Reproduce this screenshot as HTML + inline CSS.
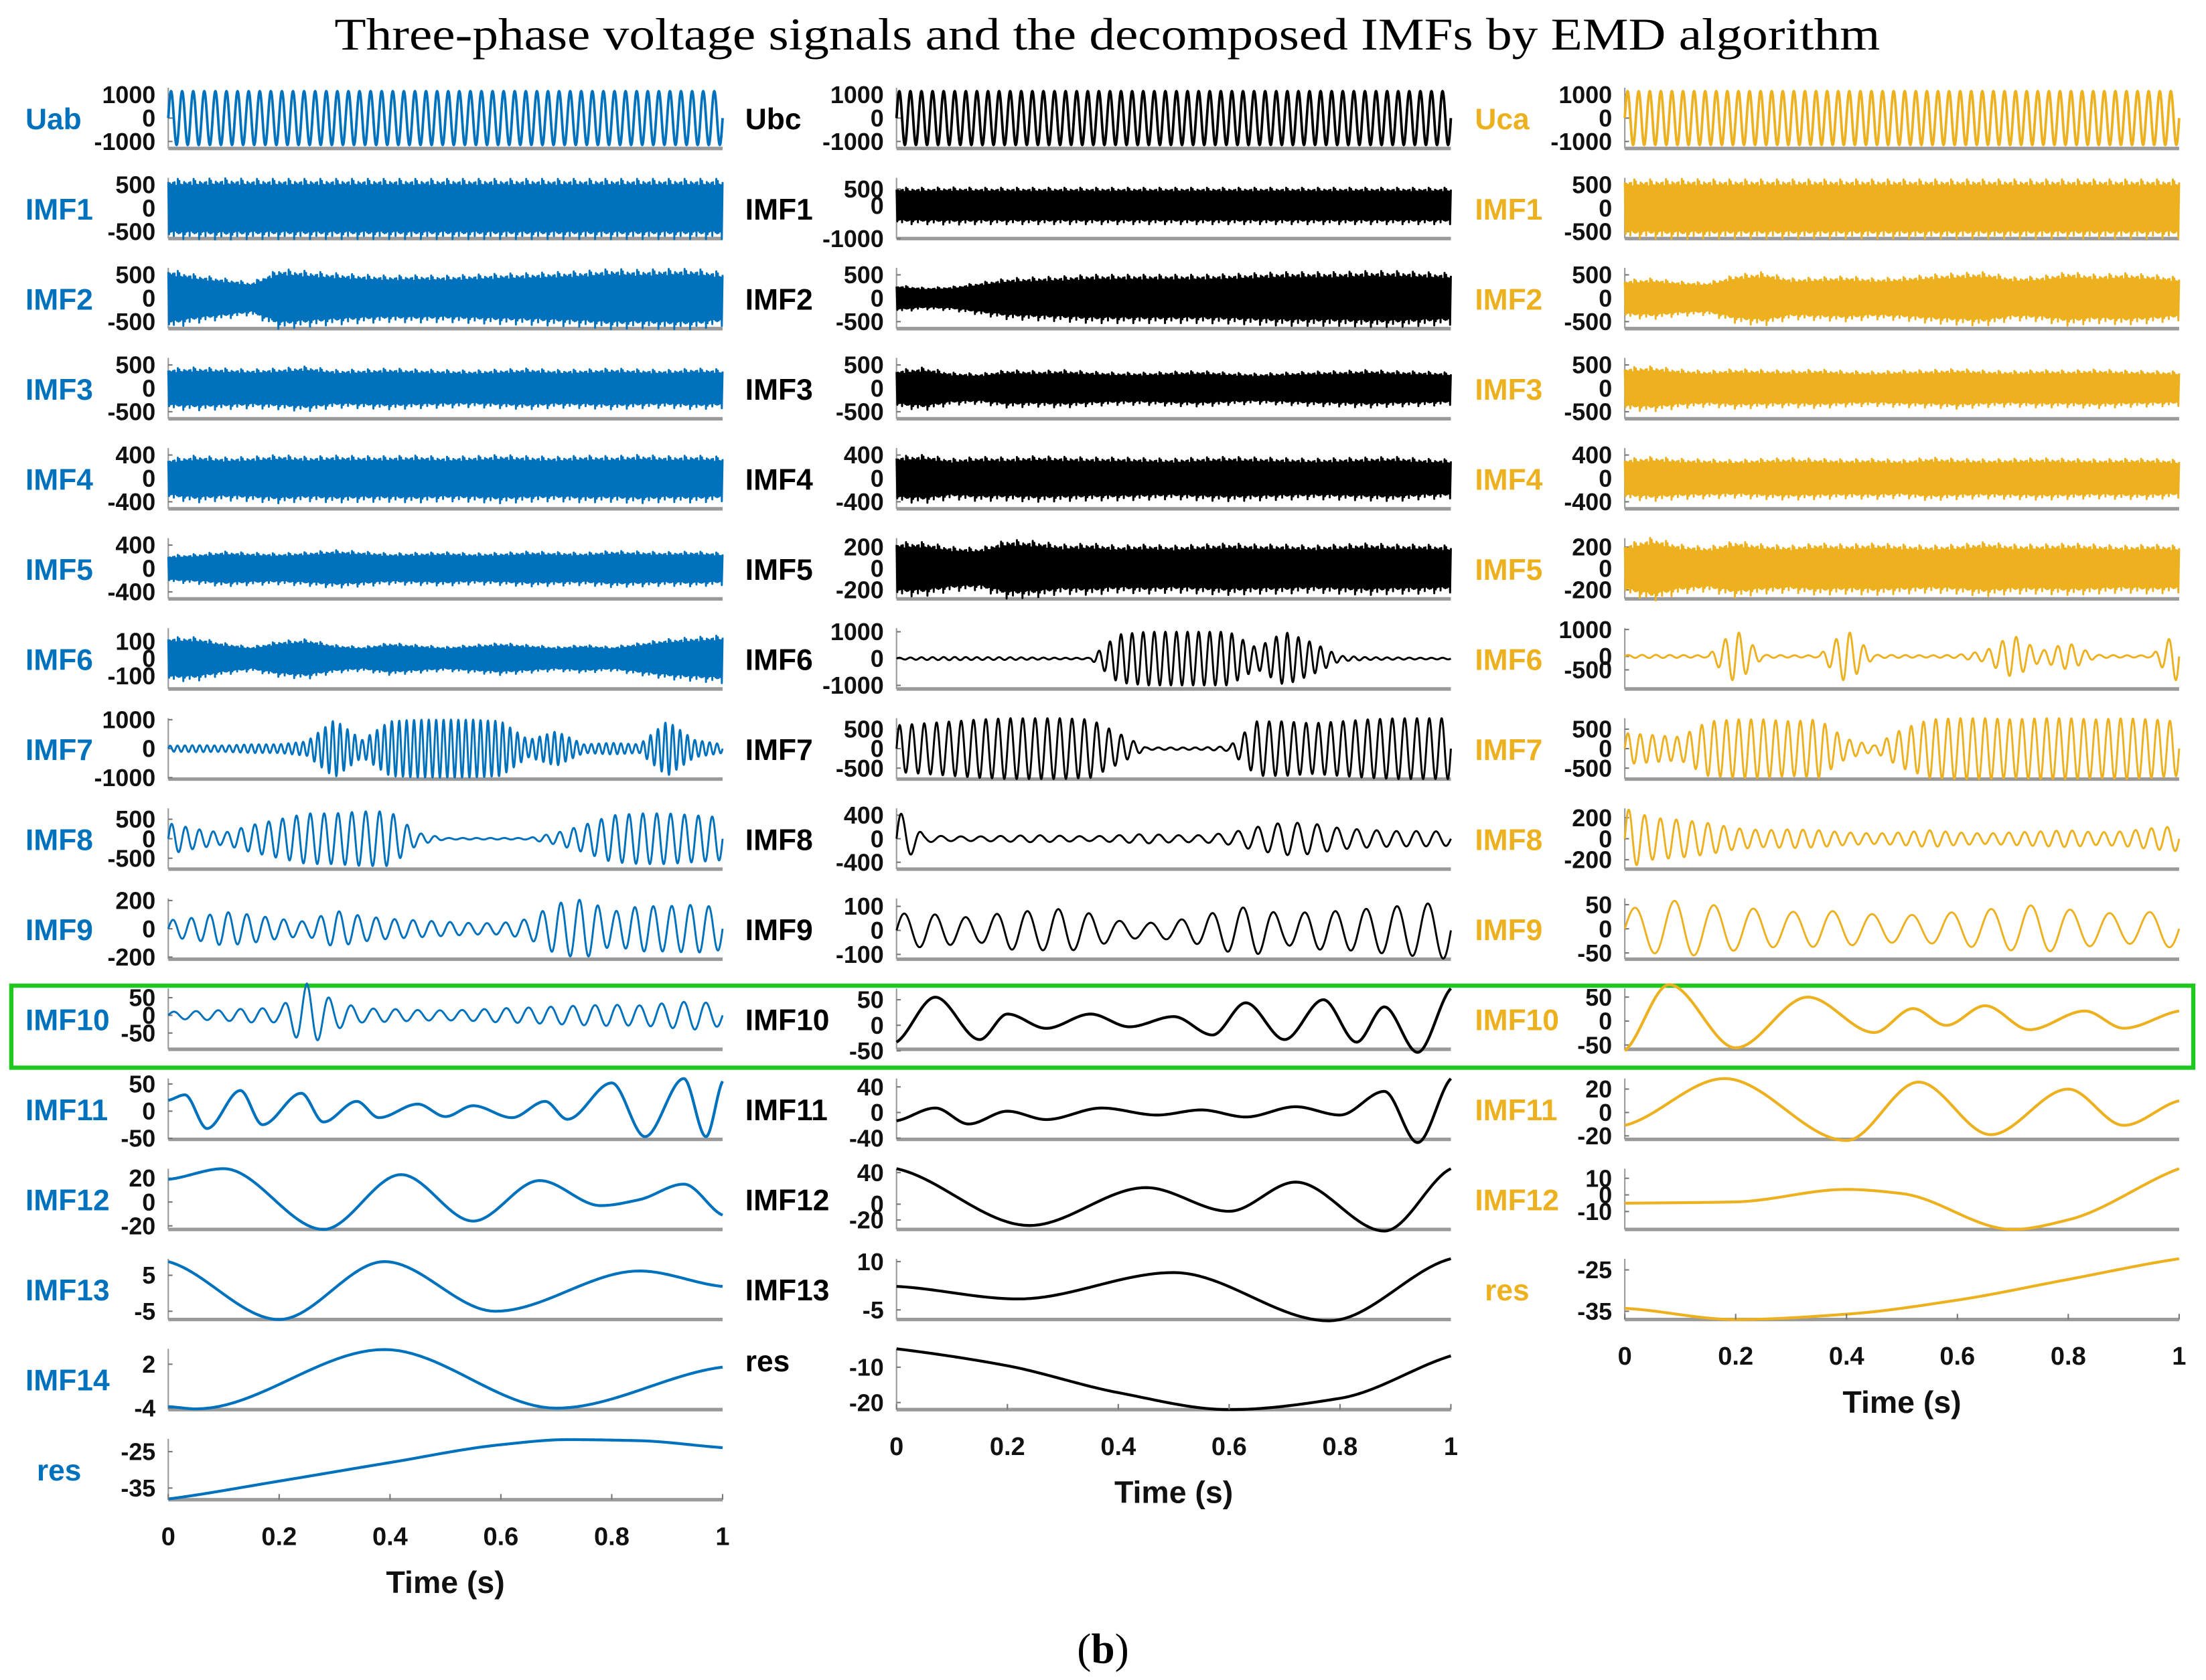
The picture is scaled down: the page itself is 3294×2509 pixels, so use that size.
<!DOCTYPE html>
<html><head><meta charset="utf-8"><style>
html,body{margin:0;padding:0;background:#fff;}
svg{display:block;}
text{font-family:"Liberation Sans",sans-serif;}
</style></head><body>
<svg id="fig" width="3294" height="2509" viewBox="0 0 1560 1188" preserveAspectRatio="none" xmlns="http://www.w3.org/2000/svg">
<text x="783" y="35" text-anchor="middle" font-size="32" textLength="1093" lengthAdjust="spacingAndGlyphs" style="font-family:'Liberation Serif',serif">Three-phase voltage signals and the decomposed IMFs by EMD algorithm</text>
<text x="780" y="1176" text-anchor="middle" font-size="30" style="font-family:'Liberation Serif',serif">(<tspan font-weight="bold">b</tspan>)</text>
<rect x="8" y="697" width="1543" height="58" fill="none" stroke="#1ec81e" stroke-width="3"/>
<g id="plots"></g>
</svg>
<script>
// ---------- data: envelope arrays (21 samples at t=0,0.05..1) ----------
const envFull1150=[1150,1150,1150,1150,1150,1150,1150,1150,1150,1150,1150,1150,1150,1150,1150,1150,1150,1150,1150,1150,1150];
const c1_imf1_env=[560,560,570,560,560,560,560,560,560,560,560,560,560,560,560,560,560,560,560,560,560];
const c1_imf2_env=[560,450,380,300,560,520,480,450,430,440,430,450,470,480,500,520,560,540,560,560,500];
const c1_imf3_env=[380,400,380,360,380,420,350,360,380,360,350,340,360,380,350,360,380,360,350,380,360];
const c1_imf4_env=[300,350,320,330,360,330,350,340,340,350,330,340,360,340,330,350,340,360,340,350,330];
const c1_imf5_env=[200,220,260,240,230,250,280,260,230,240,250,230,240,260,250,240,270,260,250,260,240];
const c1_imf6_env=[110,110,80,60,90,100,70,60,80,70,60,70,80,70,60,70,60,80,100,110,120];
const c1_imf7_env=[100,120,110,150,150,250,1000,300,950,1000,1000,1000,950,300,600,150,200,150,950,300,150];
const c1_imf8_env=[400,250,150,350,500,650,650,700,700,150,20,20,20,20,150,350,600,650,650,600,550];
const c1_imf9_env=[60,80,120,100,70,50,130,90,70,60,50,40,40,70,180,210,120,160,160,170,150];
const c1_imf10_env=[10,12,15,20,20,90,40,20,18,15,14,16,20,22,25,28,30,28,35,40,30];
const c2_imf1_env=[480,480,490,480,480,480,480,480,480,480,480,480,480,480,480,480,480,480,480,480,480];
const c2_imf2_env=[250,200,220,300,380,400,420,450,450,450,450,450,460,480,500,500,500,520,520,500,480];
const c2_imf3_env=[350,400,300,280,350,330,350,320,300,300,320,330,300,280,300,320,330,350,330,320,300];
const c2_imf4_env=[340,360,300,330,320,340,330,320,320,310,300,320,330,320,310,300,310,320,330,300,290];
const c2_imf5_env=[220,220,180,170,240,230,200,210,190,200,190,200,210,200,200,190,200,210,200,200,190];
const c2_imf6_env=[30,50,60,50,50,40,30,30,900,1000,1000,1000,1000,400,1000,600,100,50,40,30,30];
const c2_imf7_env=[600,650,700,750,780,780,780,750,400,30,30,30,60,700,700,650,700,750,780,780,780];
const c2_imf8_env=[500,60,40,40,50,60,50,40,60,80,60,60,100,200,280,260,180,150,130,130,120];
const c2_imf9_env=[70,70,60,50,80,80,90,70,40,30,40,60,90,100,60,80,80,90,100,110,120];
const c3_imf1_env=[550,550,560,550,550,550,550,550,550,550,550,550,550,550,550,550,550,550,550,550,550];
const c3_imf2_env=[350,380,320,300,450,500,380,400,420,380,400,450,480,500,400,420,500,450,480,450,400];
const c3_imf3_env=[400,420,360,330,370,350,340,360,330,320,340,350,370,340,330,350,340,360,340,330,320];
const c3_imf4_env=[300,330,300,290,280,300,310,300,290,300,280,320,300,290,300,310,300,290,300,300,280];
const c3_imf5_env=[200,260,200,180,230,200,190,210,200,210,200,190,200,220,200,200,210,200,190,200,190];
const c3_imf6_env=[50,60,50,40,1000,60,40,40,1000,60,50,40,60,200,800,200,500,60,40,40,1000];
const c3_imf7_env=[400,350,300,700,750,750,700,750,250,80,500,750,780,780,750,780,780,750,780,750,700];
const c3_imf8_env=[290,200,180,150,100,80,90,80,60,50,60,80,60,50,60,70,80,60,70,100,120];
const c3_imf9_env=[40,50,60,50,45,40,35,38,35,30,28,30,35,40,45,50,40,35,30,35,40];
// ---------- data: extrema curves (time, value) ----------
const c1_imf11_t=[0,0.03,0.07,0.13,0.17,0.24,0.28,0.34,0.38,0.45,0.5,0.55,0.62,0.68,0.72,0.8,0.86,0.93,0.97,1];
const c1_imf11_v=[20,30,-32,38,-25,33,-20,18,-12,13,-10,10,-12,18,-15,52,-47,60,-47,55];
const c1_imf12_t=[0,0.1,0.28,0.42,0.55,0.67,0.78,0.85,0.93,1];
const c1_imf12_v=[19,28,-23,23,-16,18,-3,2,15,-11];
const c1_imf13_t=[0,0.2,0.39,0.59,0.85,1];
const c1_imf13_v=[8.8,-7.3,8.8,-5,6.2,1.9];
const c1_imf14_t=[0,0.05,0.39,0.7,1];
const c1_imf14_v=[-3.8,-4.1,4.0,-4.0,1.6];
const c1_res_t=[0,0.2,0.4,0.6,0.72,0.85,1];
const c1_res_v=[-38,-33.1,-28,-23.1,-21.7,-22,-23.9];
const c2_imf10_t=[0,0.07,0.15,0.2,0.27,0.35,0.42,0.5,0.57,0.63,0.7,0.77,0.83,0.88,0.94,1];
const c2_imf10_v=[-33,55,-28,22,-6,22,-3,17,-19,44,-28,50,-33,36,-53,72];
const c2_imf11_t=[0,0.07,0.13,0.2,0.27,0.37,0.47,0.55,0.63,0.72,0.8,0.88,0.94,1];
const c2_imf11_v=[-13,7,-18,2,-11,7,-4,4,-7,9,-4,33,-47,53];
const c2_imf12_t=[0,0.24,0.45,0.6,0.72,0.88,1];
const c2_imf12_v=[45,-27,21,-9,28,-34,45];
const c2_imf13_t=[0,0.22,0.5,0.78,1];
const c2_imf13_v=[2.3,-1.6,6.6,-8.4,10.9];
const c2_res_t=[0,0.2,0.4,0.6,0.8,1];
const c2_res_v=[-4.8,-9.6,-17.2,-22,-18.8,-6.8];
const c3_imf10_t=[0,0.08,0.2,0.33,0.45,0.52,0.58,0.65,0.73,0.83,0.9,1];
const c3_imf10_v=[-62,76,-56,50,-24,26,-9,32,-18,21,-15,21];
const c3_imf11_t=[0,0.18,0.4,0.53,0.66,0.8,0.9,1];
const c3_imf11_v=[-11,29,-24,26,-19,20,-11,10];
const c3_imf12_t=[0,0.2,0.4,0.5,0.7,0.8,1];
const c3_imf12_v=[-5,-4.2,3.3,0.8,-20.8,-15,15.8];
const c3_res_t=[0,0.2,0.4,0.6,0.8,1];
const c3_res_v=[-34.3,-37,-35.7,-32.3,-27.3,-22.3];
// ---------- tick labels ----------
const xTicks=[0,0.2,0.4,0.6,0.8,1];
const xTickLabels=["0","0.2","0.4","0.6","0.8","1"];

// spike texture multipliers for dense bands (style, repeats)
const TEXTURE=[1,0.9,0.97,0.86,1.12,0.94,0.88,1.0,0.9,1.06,0.85,0.96,0.9,1.18,0.95,0.87,0.99,0.92,1.04,0.89];

const COLORS=["#0072BD","#000000","#EDB120"];
const colX=[119,634,1149], W=392, TOPY=62, PITCH=63.7, H=43;
const labelX=[18,527,1043], tickRX=[110,625,1140];

const col1=[
 ["Uab",-1300,1300,[1000,0,-1000],"osc",envFull1150,50],
 ["IMF1",-650,650,[500,0,-500],"dense",c1_imf1_env],
 ["IMF2",-650,650,[500,0,-500],"dense",c1_imf2_env],
 ["IMF3",-650,650,[500,0,-500],"dense",c1_imf3_env],
 ["IMF4",-520,520,[400,0,-400],"dense",c1_imf4_env],
 ["IMF5",-520,520,[400,0,-400],"dense",c1_imf5_env],
 ["IMF6",-175,175,[100,0,-100],"dense",c1_imf6_env],
 ["IMF7",-1050,1050,[1000,0,-1000],"osc",c1_imf7_env,75],
 ["IMF8",-780,780,[500,0,-500],"osc",c1_imf8_env,40],
 ["IMF9",-215,215,[200,0,-200],"osc",c1_imf9_env,30],
 ["IMF10",-96,76,[50,0,-50],"osc",c1_imf10_env,25],
 ["IMF11",-52,60,[50,0,-50],"ext",c1_imf11_t,c1_imf11_v],
 ["IMF12",-23,28,[20,0,-20],"ext",c1_imf12_t,c1_imf12_v],
 ["IMF13",-7.3,9.6,[5,-5],"ext",c1_imf13_t,c1_imf13_v],
 ["IMF14",-4.2,4.1,[2,-4],"ext",c1_imf14_t,c1_imf14_v],
 ["res",-38.2,-21.5,[-25,-35],"ext",c1_res_t,c1_res_v]
];
const col2=[
 ["Ubc",-1300,1300,[1000,0,-1000],"osc",envFull1150,50],
 ["IMF1",-1000,840,[500,0,-1000],"dense",c2_imf1_env],
 ["IMF2",-650,650,[500,0,-500],"dense",c2_imf2_env],
 ["IMF3",-650,650,[500,0,-500],"dense",c2_imf3_env],
 ["IMF4",-520,520,[400,0,-400],"dense",c2_imf4_env],
 ["IMF5",-284,284,[200,0,-200],"dense",c2_imf5_env],
 ["IMF6",-1135,1135,[1000,0,-1000],"osc",c2_imf6_env,50],
 ["IMF7",-780,780,[500,0,-500],"osc",c2_imf7_env,45],
 ["IMF8",-517,517,[400,0,-400],"osc",c2_imf8_env,28],
 ["IMF9",-120,133,[100,0,-100],"osc",c2_imf9_env,18],
 ["IMF10",-47,72,[50,0,-50],"ext",c2_imf10_t,c2_imf10_v],
 ["IMF11",-42,53,[40,0,-40],"ext",c2_imf11_t,c2_imf11_v],
 ["IMF12",-32,45,[40,0,-20],"ext",c2_imf12_t,c2_imf12_v],
 ["IMF13",-8,10.9,[10,-5],"ext",c2_imf13_t,c2_imf13_v],
 ["res",-22,-4.8,[-10,-20],"ext",c2_res_t,c2_res_v]
];
const col3=[
 ["Uca",-1300,1300,[1000,0,-1000],"osc",envFull1150,50],
 ["IMF1",-650,650,[500,0,-500],"dense",c3_imf1_env],
 ["IMF2",-650,650,[500,0,-500],"dense",c3_imf2_env],
 ["IMF3",-650,650,[500,0,-500],"dense",c3_imf3_env],
 ["IMF4",-520,520,[400,0,-400],"dense",c3_imf4_env],
 ["IMF5",-284,284,[200,0,-200],"dense",c3_imf5_env],
 ["IMF6",-1210,1050,[1000,0,-500],"osc",c3_imf6_env,40],
 ["IMF7",-780,780,[500,0,-500],"osc",c3_imf7_env,45],
 ["IMF8",-290,290,[200,0,-200],"osc",c3_imf8_env,35],
 ["IMF9",-63,63,[50,0,-50],"osc",c3_imf9_env,14],
 ["IMF10",-59,68,[50,0,-50],"ext",c3_imf10_t,c3_imf10_v],
 ["IMF11",-23,29,[20,0,-20],"ext",c3_imf11_t,c3_imf11_v],
 ["IMF12",-20.8,15.8,[10,0,-10],"ext",c3_imf12_t,c3_imf12_v],
 ["res",-37,-22.3,[-25,-35],"ext",c3_res_t,c3_res_v]
];
const cols=[col1,col2,col3];

const NS="http://www.w3.org/2000/svg";
const root=document.getElementById("plots");
function mk(tag,attrs,parent){const e=document.createElementNS(NS,tag);for(const k in attrs)e.setAttribute(k,attrs[k]);(parent||root).appendChild(e);return e;}
function envAt(env,t){const p=t*(env.length-1);const i=Math.min(Math.floor(p),env.length-2);const f=p-i;return env[i]*(1-f)+env[i+1]*f;}
function pchipSlopes(T,V){
  const n=T.length,h=[],dl=[],m=new Array(n).fill(0);
  for(let k=0;k<n-1;k++){h[k]=T[k+1]-T[k];dl[k]=(V[k+1]-V[k])/h[k];}
  for(let k=1;k<n-1;k++){
    if(dl[k-1]*dl[k]<=0)m[k]=0;
    else{const w1=2*h[k]+h[k-1],w2=h[k]+2*h[k-1];m[k]=(w1+w2)/(w1/dl[k-1]+w2/dl[k]);}
  }
  m[0]=n>2&&dl[0]*dl[1]>0?dl[0]*0.8:dl[0]*0.5;
  m[n-1]=n>2&&dl[n-2]*dl[n-3]>0?dl[n-2]*0.8:dl[n-2]*0.5;
  return m;
}

cols.forEach((col,ci)=>{
  const x0=colX[ci], color=COLORS[ci];
  const xs=t=>x0+t*W;
  col.forEach((p,ri)=>{
    const [label,lo,hi,ticks,kind,A,B]=p;
    const top=TOPY+ri*PITCH, bot=top+H;
    const ys=v=>bot-(v-lo)/(hi-lo)*H;
    const g=mk("g",{});
    
    
    let ly=(top+bot)/2+8;
    if(ci===1&&label==="res") ly=top+16;
    const lt=mk("text",{x:labelX[ci]+(label==="res"?(ci===0?8:(ci===2?7:0)):0),y:ly,"font-size":21,"font-weight":"bold",fill:color},g);
    lt.textContent=label;
    
    
    mk("line",{x1:x0,y1:top,x2:x0,y2:bot,stroke:"#9a9a9a","stroke-width":1},g);
    const ax=mk("line",{x1:x0,y1:bot,x2:x0+W,y2:bot,stroke:"#9a9a9a","stroke-width":2.5},g);
    
    
    ticks.forEach(v=>{
      const y=ys(v);
      mk("line",{x1:x0,y1:y,x2:x0+3,y2:y,stroke:"#777","stroke-width":1},g);
      const tt=mk("text",{x:tickRX[ci],y:y+6,"text-anchor":"end","font-size":17,"font-weight":"bold",fill:"#111"},g);
      tt.textContent=String(v);
      
      
    });
    let d="";
    if(kind==="osc"){
      const N=1600;
      for(let i=0;i<=N;i++){const t=i/N;const v=envAt(A,t)*Math.sin(2*Math.PI*B*t);d+=(i?"L":"M")+xs(t).toFixed(2)+" "+ys(v).toFixed(2);}
    } else if(kind==="dense"){
      const N=700;
      for(let i=0;i<=N;i++){const t=i/N;const v=(i%2?-1:1)*envAt(A,t)*TEXTURE[(i*7)%TEXTURE.length];d+=(i?"L":"M")+xs(t).toFixed(2)+" "+ys(v).toFixed(2);}
    } else {
      const T=A,V=B,m=pchipSlopes(T,V);
      d="M"+xs(T[0]).toFixed(2)+" "+ys(V[0]).toFixed(2);
      for(let k=0;k<T.length-1;k++){
        const h=T[k+1]-T[k];
        for(let s=1;s<=24;s++){const u=s/24;
          const h00=2*u*u*u-3*u*u+1,h10=u*u*u-2*u*u+u,h01=-2*u*u*u+3*u*u,h11=u*u*u-u*u;
          const v=h00*V[k]+h10*h*m[k]+h01*V[k+1]+h11*h*m[k+1];
          d+="L"+xs(T[k]+h*u).toFixed(2)+" "+ys(v).toFixed(2);}
      }
    }
    const path=mk("path",{d:d,fill:"none",stroke:color,"stroke-width":kind==="ext"?2:(kind==="osc"&&ri===0?1.8:1.4),"stroke-linejoin":"round"},g);
    
    
    if(ri===col.length-1){
      xTicks.forEach((t,k)=>{
        mk("line",{x1:xs(t),y1:bot,x2:xs(t),y2:bot-4,stroke:"#777","stroke-width":1},g);
        const xl=mk("text",{x:xs(t),y:bot+32,"text-anchor":"middle","font-size":18,"font-weight":"bold",fill:"#111"},g);
        xl.textContent=xTickLabels[k];
        
        
      });
      const xt=mk("text",{x:xs(0.5),y:bot+66,"text-anchor":"middle","font-size":22,"font-weight":"bold",fill:"#111"},g);
      xt.textContent="Time (s)";
      
      
    }
  });
});
</script>
</body></html>
